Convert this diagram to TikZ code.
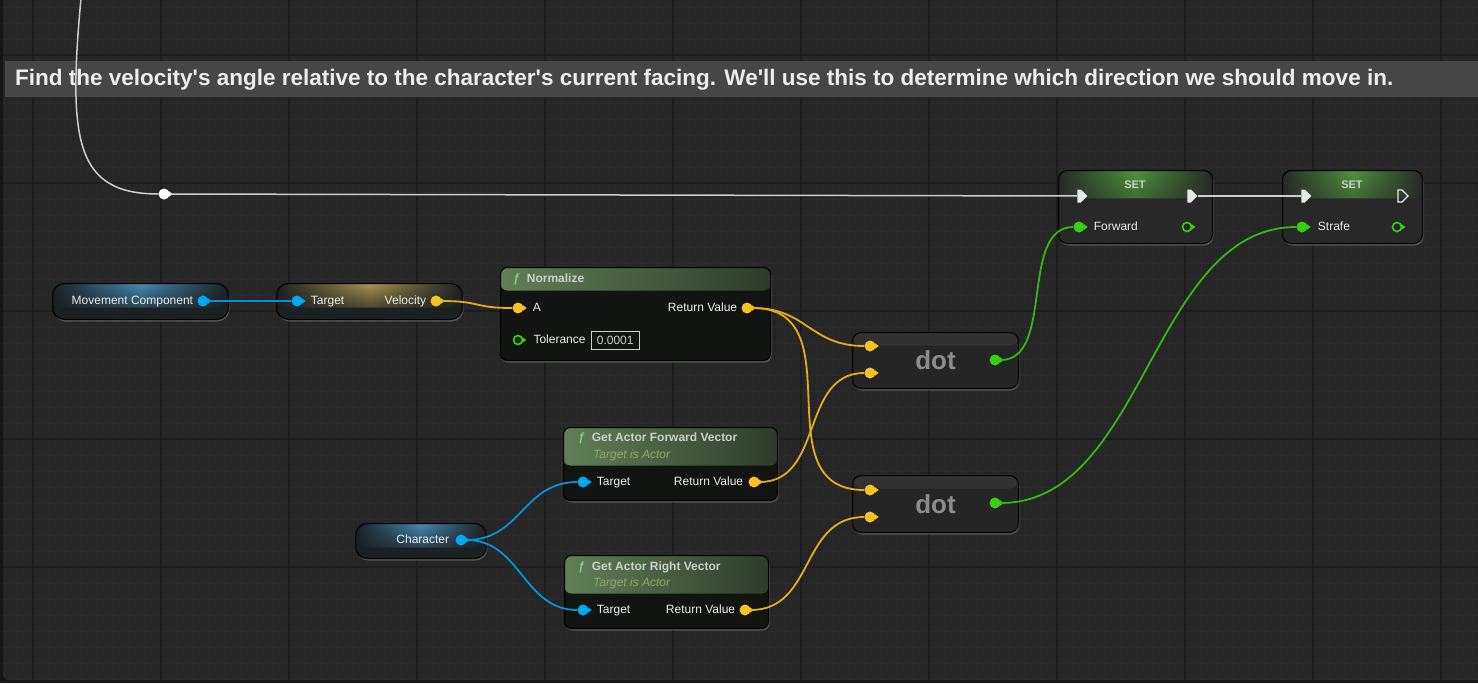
\documentclass[tikz,border=0pt]{standalone}
\usepackage{fontspec}
\setmainfont{Liberation Sans}
\usepackage{tikz}
\usetikzlibrary{positioning}
\usetikzlibrary{shapes.geometric,shapes.symbols,shadows,fadings,arrows}
\definecolor{edgedark}{RGB}{22,22,22}
\definecolor{bg}{RGB}{38,38,38}
\definecolor{gridminor}{RGB}{43,43,43}
\definecolor{gridmajor}{RGB}{29,29,29}
\definecolor{commentbg}{RGB}{70,70,70}
\definecolor{pinblue}{RGB}{0,168,242}
\definecolor{pinyellow}{RGB}{246,194,40}
\definecolor{pingreen}{RGB}{58,208,18}
\definecolor{wireblue}{RGB}{8,146,210}
\definecolor{wireyellow}{RGB}{226,174,32}
\definecolor{wiregreen}{RGB}{52,184,20}
\definecolor{execwhite}{RGB}{232,232,232}
\definecolor{execwire}{RGB}{205,205,205}
\definecolor{fnbody}{RGB}{18,20,18}
\definecolor{fnheadL}{RGB}{96,128,86}
\definecolor{fnheadR}{RGB}{46,60,43}
\definecolor{purebody}{RGB}{27,32,34}
\definecolor{mcglow}{RGB}{72,140,180}
\definecolor{velglow}{RGB}{170,150,78}
\definecolor{setbody}{RGB}{40,40,40}
\definecolor{setgreen}{RGB}{78,150,60}
\definecolor{dotbody}{RGB}{37,37,37}
\definecolor{dotgloss}{RGB}{50,50,50}
\definecolor{lbltext}{RGB}{236,236,236}
\definecolor{titletext}{RGB}{205,205,205}
\definecolor{subtext}{RGB}{150,162,112}
\definecolor{fglyph}{RGB}{140,200,128}
\definecolor{dottext}{RGB}{140,140,140}
\tikzstyle{fnbox} = [rectangle, rounded corners=7pt, draw=black, line width=1pt, fill=fnbody, anchor=north west, inner sep=0pt, drop shadow={shadow xshift=1pt, shadow yshift=-2pt, opacity=0.5}]
\tikzstyle{purebox} = [rectangle, rounded corners=12pt, draw=black, line width=1pt, fill=purebody, anchor=north west, inner sep=0pt, drop shadow={shadow xshift=1pt, shadow yshift=-2pt, opacity=0.5}]
\tikzstyle{setbox} = [rectangle, rounded corners=9pt, draw=black, line width=1pt, fill=setbody, anchor=north west, inner sep=0pt, drop shadow={shadow xshift=1pt, shadow yshift=-2pt, opacity=0.5}]
\tikzstyle{dotbox} = [rectangle, rounded corners=9pt, draw=black, line width=1pt, fill=dotbody, anchor=north west, inner sep=0pt, text=dottext, font=\bfseries\fontsize{26}{30}\selectfont, drop shadow={shadow xshift=1pt, shadow yshift=-2pt, opacity=0.5}, path picture={\fill[dotgloss] (path picture bounding box.north west) rectangle ([yshift=-13pt]path picture bounding box.north east);}]
\tikzset{fnhead/.style={path picture={\shade[left color=fnheadL, right color=fnheadR] (path picture bounding box.north west) rectangle ([yshift=-#1pt]path picture bounding box.north east);}}}
\tikzset{glow/.style={path picture={\shade[left color=purebody, right color=purebody, middle color=#1, path fading=south] (path picture bounding box.north west) rectangle ([yshift=-24pt]path picture bounding box.north east);}}}
\tikzset{sethead/.style={path picture={\shade[left color=setbody, right color=setbody, middle color=setgreen, path fading=south] (path picture bounding box.north west) rectangle ([yshift=-28pt]path picture bounding box.north east);}}}
\tikzstyle{pinB} = [circle, fill=pinblue, inner sep=0pt, minimum size=11pt]
\tikzstyle{pinY} = [circle, fill=pinyellow, inner sep=0pt, minimum size=11pt]
\tikzstyle{pinG} = [circle, fill=pingreen, inner sep=0pt, minimum size=11pt]
\tikzstyle{pinGo} = [circle, draw=pingreen, fill=black!85, line width=1.6pt, inner sep=0pt, minimum size=9pt]
\tikzstyle{execin} = [signal, signal to=east, fill=execwhite, inner sep=0pt, minimum width=10pt, minimum height=13pt]
\tikzstyle{execout} = [signal, signal to=east, draw=execwhite, line width=1.3pt, inner sep=0pt, minimum width=10pt, minimum height=12pt]
\tikzstyle{reroute} = [circle, fill=white, inner sep=0pt, minimum size=11pt]
\tikzstyle{pinlbl} = [text=lbltext, font=\fontsize{12}{14}\selectfont, inner sep=0pt, text height=9pt, text depth=2.5pt]
\tikzstyle{fntitle} = [text=titletext, font=\bfseries\fontsize{12}{14}\selectfont, inner sep=0pt, anchor=west]
\tikzstyle{fnsub} = [text=subtext, font=\itshape\fontsize{12}{14}\selectfont, inner sep=0pt, anchor=west]
\tikzstyle{settitle} = [text=titletext, font=\bfseries\fontsize{11}{13}\selectfont, inner sep=0pt]
\tikzstyle{tolbox} = [rectangle, draw=titletext, line width=0.9pt, text=titletext, font=\fontsize{12}{14}\selectfont, inner sep=0pt, minimum width=48pt, minimum height=18pt]
\tikzstyle{commenttext} = [text=white!93!black, font=\bfseries\fontsize{22.5}{27}\selectfont, inner sep=0pt, anchor=west]
\tikzstyle{wireB} = [draw=wireblue, line width=1.8pt]
\tikzstyle{wireY} = [draw=wireyellow, line width=1.8pt]
\tikzstyle{wireG} = [draw=wiregreen, line width=1.8pt]
\tikzstyle{wireW} = [draw=execwire, line width=1.5pt]
\newcommand{\fsym}{\textcolor{fglyph}{\textit{ƒ}}\hspace{7pt}}

\begin{document}
\begin{tikzpicture}[x=1pt, y=-1pt]
    \useasboundingbox (0,0) rectangle (1478,683);
    % graph background
    \fill[edgedark] (0,0) rectangle (1478,683);
    \begin{scope}
        \clip[rounded corners=6pt] (3,-20) rectangle (1500,680);
        \fill[bg] (0,0) rectangle (1478,683);
        \foreach \x in {1,17,...,1478} \draw[gridminor, line width=1pt] (\x,0) -- (\x,683);
        \foreach \y in {7,23,...,683} \draw[gridminor, line width=1pt] (0,\y) -- (1478,\y);
        \foreach \x in {33,161,...,1478} \draw[gridmajor, line width=1.5pt] (\x,0) -- (\x,683);
        \foreach \y in {55,183,...,683} \draw[gridmajor, line width=1.5pt] (0,\y) -- (1478,\y);
    \end{scope}
    % comment box
    \fill[commentbg] (5,61) rectangle (1478,97);
    \node (comment) [commenttext] at (15,80) {Find the velocity\textquotesingle s angle relative to the character\textquotesingle s current facing. We\textquotesingle ll use this to determine which direction we should move in.};

    % node bodies
    \node (movecomp) [purebox, glow=mcglow, minimum width=176pt, minimum height=36pt] at (52,283) {};
    \node (getvel) [purebox, glow=velglow, minimum width=186pt, minimum height=36pt] at (276,283) {};
    \node (character) [purebox, glow=mcglow, minimum width=131pt, minimum height=35pt] at (355,523) {};
    \node (normalize) [fnbox, fnhead=23, minimum width=270pt, minimum height=93pt] at (500,267) {};
    \node (fwdvec) [fnbox, fnhead=38, minimum width=214pt, minimum height=73pt] at (563,427) {};
    \node (rgtvec) [fnbox, fnhead=38, minimum width=204pt, minimum height=73pt] at (564,555) {};
    \node (dot1) [dotbox, minimum width=166pt, minimum height=56pt] at (852,332) {dot};
    \node (dot2) [dotbox, minimum width=166pt, minimum height=57pt] at (852,475) {dot};
    \node (setfwd) [setbox, sethead, minimum width=154pt, minimum height=73pt] at (1058,170) {};
    \node (setstr) [setbox, sethead, minimum width=140pt, minimum height=73pt] at (1282,170) {};

    % titles
    \node (normTitle) [fntitle] at (513,279) {\fsym Normalize};
    \node (fwdTitle) [fntitle] at (578,438) {\fsym Get Actor Forward Vector};
    \node (fwdSub) [fnsub] at (593,455) {Target is Actor};
    \node (rgtTitle) [fntitle] at (578,567) {\fsym Get Actor Right Vector};
    \node (rgtSub) [fnsub] at (593,583) {Target is Actor};
    \node (setfwdTitle) [settitle] at (1135,185) {SET};
    \node (setstrTitle) [settitle] at (1352,185) {SET};

    % pins
    \node (mcOut) [pinB] at (203,301) {};
    \node (velTarget) [pinB] at (297,301) {};
    \node (velOut) [pinY] at (436,301) {};
    \node (normA) [pinY] at (518,308) {};
    \node (normRV) [pinY] at (747,308) {};
    \node (normTol) [pinGo] at (518,340) {};
    \node (fwdTarget) [pinB] at (583,482) {};
    \node (fwdRV) [pinY] at (754,482) {};
    \node (rgtTarget) [pinB] at (583,610) {};
    \node (rgtRV) [pinY] at (745,610) {};
    \node (charOut) [pinB] at (461,540) {};
    \node (dot1A) [pinY] at (870,346) {};
    \node (dot1B) [pinY] at (870,373) {};
    \node (dot1Out) [pinG] at (995,360) {};
    \node (dot2A) [pinY] at (870,490) {};
    \node (dot2B) [pinY] at (870,517) {};
    \node (dot2Out) [pinG] at (995,503) {};
    \node (set1In) [execin] at (1079,196) {};
    \node (set1Out) [execin] at (1189,196) {};
    \node (set1Val) [pinG] at (1079,227) {};
    \node (set1Ret) [pinGo] at (1187,227) {};
    \node (set2In) [execin] at (1303,196) {};
    \node (set2Out) [execout] at (1400,196) {};
    \node (set2Val) [pinG] at (1302,227) {};
    \node (set2Ret) [pinGo] at (1397,227) {};
    \node (reroute) [reroute] at (164,194) {};
    \coordinate (execTop) at (81,-2);
    \foreach \p/\c in {mcOut/pinblue, velTarget/pinblue, velOut/pinyellow, normA/pinyellow, normRV/pinyellow, normTol/pingreen, fwdTarget/pinblue, fwdRV/pinyellow, rgtTarget/pinblue, rgtRV/pinyellow, charOut/pinblue, dot1A/pinyellow, dot1B/pinyellow, dot1Out/pingreen, dot2A/pinyellow, dot2B/pinyellow, dot2Out/pingreen, set1Val/pingreen, set1Ret/pingreen, set2Val/pingreen, set2Ret/pingreen, reroute/white}
        \fill[\c, shift={(\p.east)}] (-1,-3) -- (3,0) -- (-1,3) -- cycle;

    % pin labels
    \node (mcLbl) [pinlbl, left=4pt of mcOut] {Movement Component};
    \node (velTargetLbl) [pinlbl, right=8pt of velTarget] {Target};
    \node (velLbl) [pinlbl, left=4pt of velOut] {Velocity};
    \node (normALbl) [pinlbl, right=9pt of normA] {A};
    \node (normRVLbl) [pinlbl, left=4pt of normRV] {Return Value};
    \node (normTolLbl) [pinlbl, right=10pt of normTol] {Tolerance};
    \node (normTolVal) [tolbox, right=5pt of normTolLbl] {0.0001};
    \node (fwdTargetLbl) [pinlbl, right=8pt of fwdTarget] {Target};
    \node (fwdRVLbl) [pinlbl, left=5pt of fwdRV] {Return Value};
    \node (rgtTargetLbl) [pinlbl, right=8pt of rgtTarget] {Target};
    \node (rgtRVLbl) [pinlbl, left=4pt of rgtRV] {Return Value};
    \node (charLbl) [pinlbl, left=6pt of charOut] {Character};
    \node (set1ValLbl) [pinlbl, right=9pt of set1Val] {Forward};
    \node (set2ValLbl) [pinlbl, right=10pt of set2Val] {Strafe};

    % wires
    \draw[wireB] (mcOut) -- (velTarget);
    \draw[wireY] (velOut) .. controls +(45,0) and +(-45,0) .. (normA);
    \draw[wireY] (normRV) .. controls +(60,0) and +(-60,0) .. (dot1A);
    \draw[wireY] (normRV) .. controls +(110,0) and +(-110,0) .. (dot2A);
    \draw[wireY] (fwdRV) .. controls +(70,0) and +(-70,0) .. (dot1B);
    \draw[wireY] (rgtRV) .. controls +(70,0) and +(-70,0) .. (dot2B);
    \draw[wireB] (charOut) .. controls +(60,0) and +(-60,0) .. (fwdTarget);
    \draw[wireB] (charOut) .. controls +(60,0) and +(-60,0) .. (rgtTarget);
    \draw[wireG] (dot1Out) .. controls +(60,0) and +(-60,0) .. (set1Val);
    \draw[wireG] (dot2Out) .. controls +(150,0) and +(-150,0) .. (set2Val);
    \draw[wireW] (execTop) .. controls (68,140) and (75,194) .. (reroute);
    \draw[wireW] (reroute) -- (set1In);
    \draw[wireW] (set1Out) -- (set2In);
\end{tikzpicture}
\end{document}
